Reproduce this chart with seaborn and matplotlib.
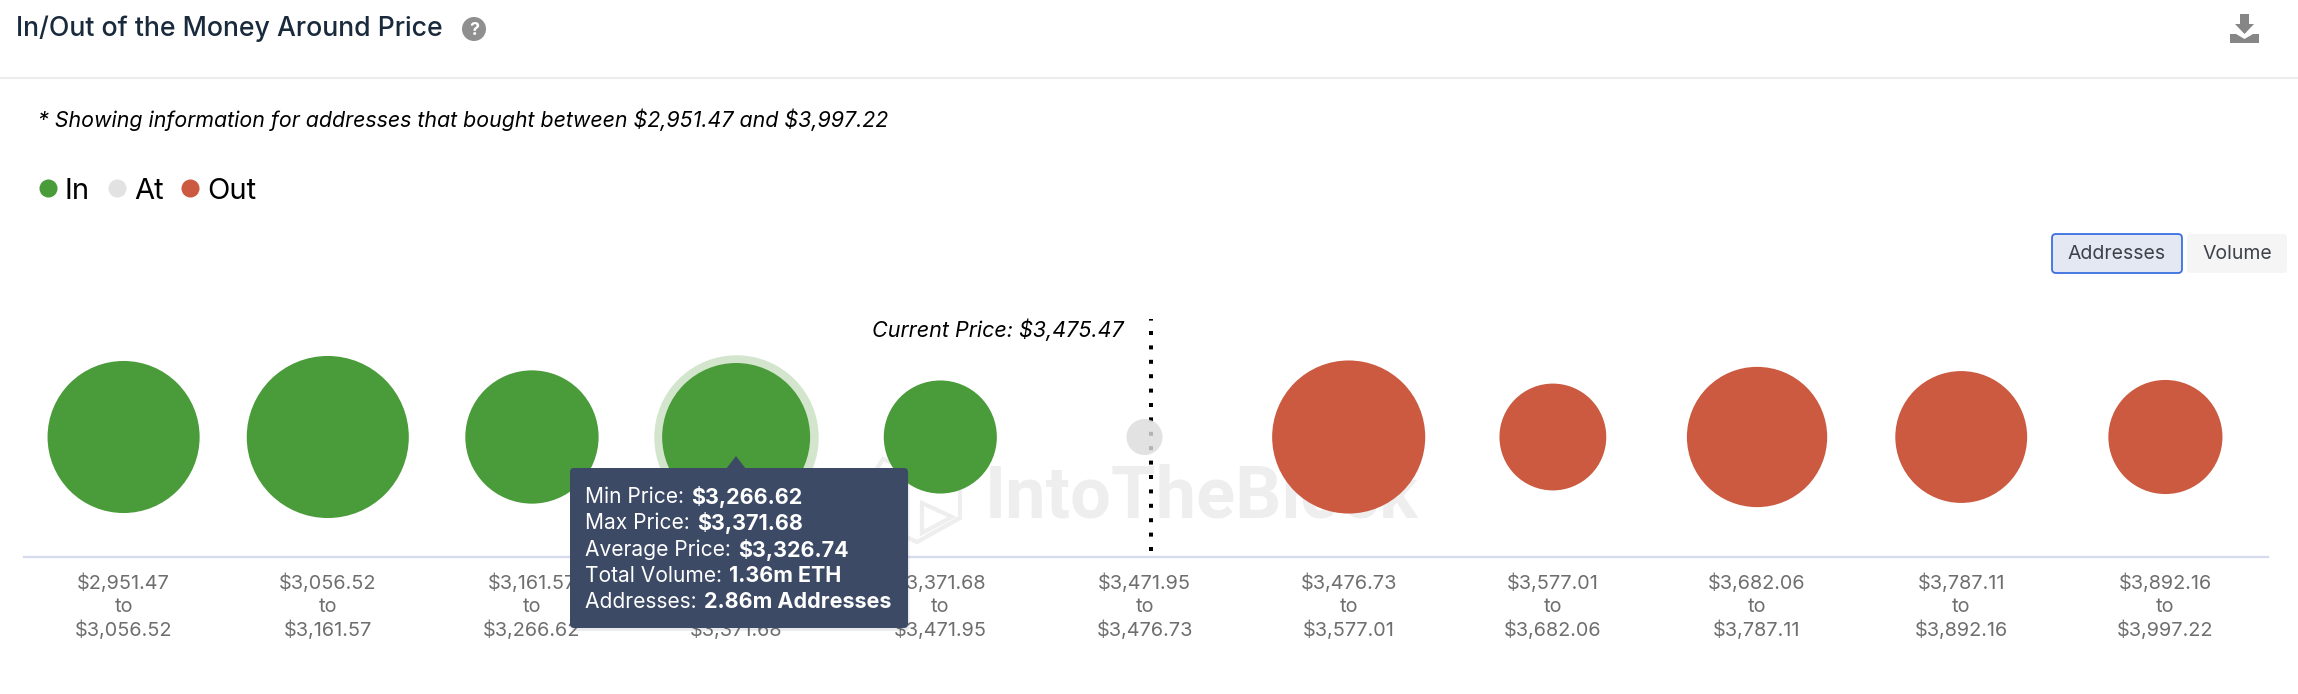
import pandas as pd
import numpy as np
import seaborn as sns
import matplotlib.pyplot as plt
import matplotlib.patheffects as pe
from matplotlib.colors import to_rgba
from matplotlib.lines import Line2D
from matplotlib.patches import FancyBboxPatch, Polygon, Circle

# price bands (low / high edge of every bubble)
band_low = ['$2,951.47', '$3,056.52', '$3,161.57', '$3,266.62', '$3,371.68', '$3,471.95',
            '$3,476.73', '$3,577.01', '$3,682.06', '$3,787.11', '$3,892.16']
band_high = ['$3,056.52', '$3,161.57', '$3,266.62', '$3,371.68', '$3,471.95', '$3,476.73',
             '$3,577.01', '$3,682.06', '$3,787.11', '$3,892.16', '$3,997.22']
# millions of addresses (only 2.86 is printed)
addresses_m = [3.02, 3.43, 2.32, 2.86, 1.67, 0.17, 3.06, 1.49, 2.57, 2.27, 1.70]
status = ['In', 'In', 'In', 'In', 'In', 'At', 'Out', 'Out', 'Out', 'Out', 'Out']
status_colors = {'In': '#4a9c3a', 'At': '#e2e2e2', 'Out': '#cb5a40'}

tooltip_labels = ['Min Price:', 'Max Price:', 'Average Price:', 'Total Volume:', 'Addresses:']
tooltip_values = ['$3,266.62', '$3,371.68', '$3,326.74', '1.36m ETH', '2.86m Addresses']

W, H = 2298, 694
BODY = 'Inter'

sns.set_theme(style='white')
plt.rcParams['font.family'] = [BODY, 'DejaVu Sans']

df = pd.DataFrame({'addresses': addresses_m, 'status': status})
df['pos'] = df.index
df['level'] = 0

fig = plt.figure(figsize=(W / 100, H / 100), dpi=100, facecolor='white')

# back layer in pixel coordinates: watermark
back = fig.add_axes([0, 0, 1, 1], zorder=0)
back.set_xlim(0, W)
back.set_ylim(H, 0)
back.axis('off')
back.text(985, 518, 'IntoTheBlock', fontsize=52, fontweight='bold', family='Roboto', color='#eeeeee',
          ha='left', va='baseline')
mark = '#eeeeee'
back.add_patch(Polygon([(883, 459), (960, 491), (960, 518), (917, 542), (870, 520), (870, 480)],
                       closed=True, fill=False, edgecolor=mark, linewidth=3))
back.add_patch(Polygon([(922, 503), (952, 517), (922, 533)], closed=True, fill=False,
                       edgecolor=mark, linewidth=3))

# bubble chart
left, right, top, bottom = 21.5, 2267.5, 300, 557
ax = fig.add_axes([left / W, 1 - bottom / H, (right - left) / W, (bottom - top) / H], zorder=1)
ax.patch.set_visible(False)

# current price marker, square dots
ax.vlines(5.03, -114, 118, color='black', linewidth=2.88, linestyles=[(0, (1, 2.6))],
          capstyle='butt', zorder=1)

k = 3970
hover = df[df['pos'] == 3]
sns.scatterplot(data=hover, x='pos', y='level', s=k * 2.86 * 1.235, color='#d3e6cd',
                linewidth=0, ax=ax, zorder=2, legend=False)
# the At bubble lets the dots show through a little
bubble_colors = dict(status_colors, At=to_rgba('#dcdcdc', 0.82))
sns.scatterplot(data=df, x='pos', y='level', hue='status', palette=bubble_colors,
                size='addresses', sizes=(0, k * 4), size_norm=(0, 4),
                linewidth=0, ax=ax, zorder=3, legend=False)

ax.set_xlim(-0.5, 10.5)
ax.set_ylim(-120, 137)
ax.set_yticks([])
ax.set_xlabel('')
ax.set_ylabel('')
ax.set_xticks(df['pos'])
ax.set_xticklabels([f'{a}\nto\n{b}' for a, b in zip(band_low, band_high)],
                   fontsize=14.3, color='#6e6e6e', linespacing=1.32)
ax.tick_params(axis='x', length=0, pad=12)
sns.despine(ax=ax, left=True, top=True, right=True)
ax.spines['bottom'].set_color('#d6daee')
ax.spines['bottom'].set_linewidth(1.6)
ax.spines['bottom'].set_bounds(-0.49, 10.5)

# top layer in pixel coordinates: header, controls, tooltip
top_ax = fig.add_axes([0, 0, 1, 1], zorder=2)
top_ax.set_xlim(0, W)
top_ax.set_ylim(H, 0)
top_ax.axis('off')

top_ax.text(16, 29, 'In/Out of the Money Around Price', fontsize=19.2, fontweight='medium',
            color='#1a2a3d', ha='left', va='center')
top_ax.plot([0, W], [78, 78], color='#ececec', linewidth=1.5)
top_ax.add_patch(Circle((474, 29), 12, color='#8f8f8f', linewidth=0))
top_ax.text(474, 30, '?', fontsize=13, fontweight='bold', color='white', ha='center', va='center')

# download icon
icon = '#868686'
top_ax.add_patch(Polygon([(2240, 14), (2249, 14), (2249, 24), (2254, 24), (2244.5, 34), (2235, 24), (2240, 24)],
                         closed=True, color=icon, linewidth=0))
top_ax.add_patch(Polygon([(2230, 34), (2236, 34), (2244.5, 39), (2253, 34), (2259, 34), (2259, 43), (2230, 43)],
                         closed=True, color=icon, linewidth=0))

top_ax.text(38, 120, r'* Showing information for addresses that bought between \$2,951.47 and \$3,997.22',
            fontsize=15.4, fontstyle='italic', color='black', ha='left', va='center')

handles = [Line2D([], [], linestyle='none', marker='o', markersize=13, markeredgewidth=0,
                  color=status_colors[s]) for s in ['In', 'At', 'Out']]
fig.legend(handles, ['In', 'At', 'Out'], loc='center left', bbox_to_anchor=(33 / W, 1 - 191 / H),
           ncol=3, frameon=False, fontsize=21, handlelength=1, handletextpad=0.09,
           columnspacing=0.42, borderpad=0, borderaxespad=0, labelcolor='black')

# Addresses / Volume switch
top_ax.add_patch(FancyBboxPatch((2054, 236), 126, 35, boxstyle='round,pad=2,rounding_size=4',
                                facecolor='#e4e8f3', edgecolor='#3b6fe0', linewidth=1.3))
top_ax.add_patch(FancyBboxPatch((2189, 236), 96, 35, boxstyle='round,pad=2,rounding_size=4',
                                facecolor='#f5f5f5', edgecolor='none'))
top_ax.text(2117, 254, 'Addresses', fontsize=14, color='#3d4149', ha='center', va='center')
top_ax.text(2237, 254, 'Volume', fontsize=14, color='#3d4149', ha='center', va='center')

top_ax.text(1124, 330, 'Current Price: $3,475.47', fontsize=15.5, fontstyle='italic',
            color='black', ha='right', va='center')

# tooltip of the hovered bubble
box = FancyBboxPatch((572, 470), 334, 156, boxstyle='round,pad=2,rounding_size=4',
                     facecolor='#3c4a66', edgecolor='none')
box.set_path_effects([pe.SimplePatchShadow(offset=(1, -2), alpha=0.12, shadow_rgbFace='#3c4a66'), pe.Normal()])
top_ax.add_patch(box)
top_ax.add_patch(Polygon([(726, 469), (736, 456), (746, 469)], closed=True, color='#3c4a66', linewidth=0))
for y, label, value in zip([497, 523, 550, 576, 602], tooltip_labels, tooltip_values):
    t = top_ax.text(585, y, label + ' ', fontsize=15.1, color='white', ha='left', va='center')
    top_ax.annotate(value, xy=(1, 0.5), xycoords=t, xytext=(1, 0), textcoords='offset points',
                    fontsize=15.5, fontweight='bold', color='white', ha='left', va='center')

fig.savefig('out.png', dpi=100)
